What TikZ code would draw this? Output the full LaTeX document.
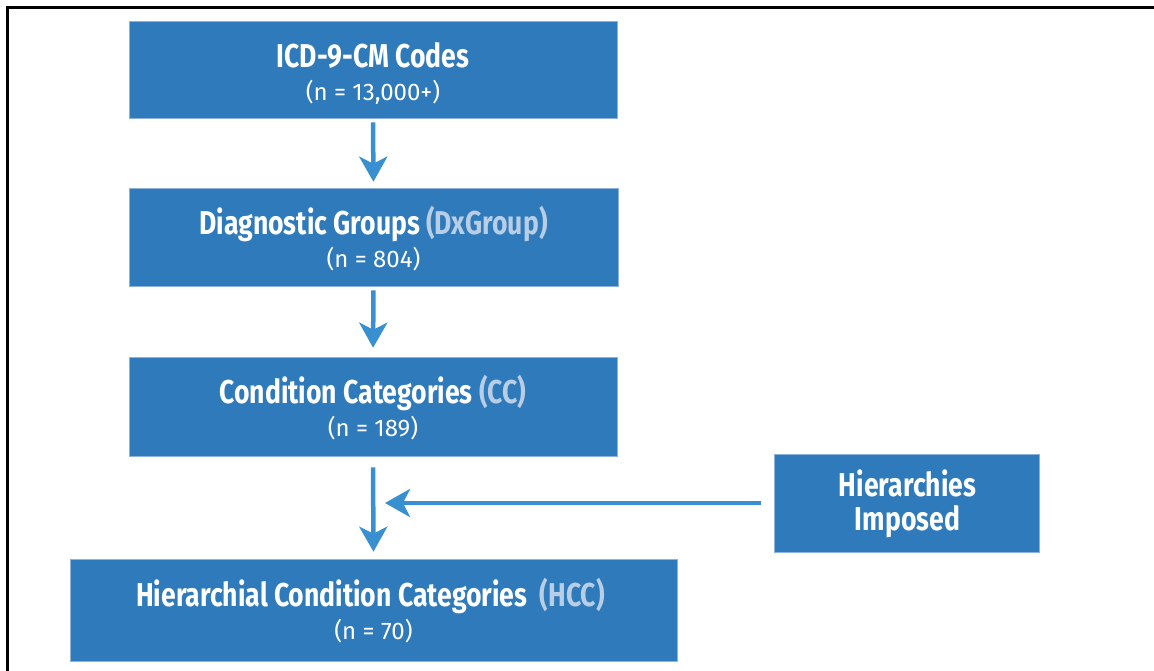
\documentclass[tikz,border=0pt]{standalone}
\usepackage{fontspec}
\setmainfont{Fira Sans}
\newfontfamily\hdfont{Fira Sans}[FakeStretch=0.805]
\newfontfamily\subfont{Fira Sans}
\usetikzlibrary{arrows.meta}
\definecolor{boxblue}{HTML}{2F7ABA}
\definecolor{boxedge}{HTML}{8DB3DA}
\definecolor{arrowblue}{HTML}{3990D0}
\definecolor{lightlbl}{HTML}{B8CDE6}
\tikzset{
  box/.style={rectangle, fill=boxblue, draw=boxedge, line width=0.6pt, inner sep=0pt},
  hd/.style={anchor=base, inner sep=0pt, text=white, font=\hdfont\bfseries\fontsize{33}{33}\selectfont},
  sub/.style={anchor=base, inner sep=0pt, text=white, font=\subfont\fontsize{24}{24}\selectfont},
  flow/.style={draw=arrowblue, line width=4.5pt, -{Stealth[length=25pt,width=28pt,inset=7pt]}},
  frame/.style={draw=black, line width=2.5pt}
}
\begin{document}
\begin{tikzpicture}[x=1pt,y=-1pt]
\useasboundingbox (0,0) rectangle (1154,671);
\draw[frame] (7.5,671) -- (7.5,7.5) -- (1154,7.5);

\node[box, minimum width=488pt, minimum height=97pt] (b1) at (373,69.5) {};
\node[box, minimum width=489pt, minimum height=98pt] (b2) at (373.5,237) {};
\node[box, minimum width=488pt, minimum height=99pt] (b3) at (373,406.5) {};
\node[box, minimum width=607pt, minimum height=102pt] (b4) at (373.5,610) {};
\node[box, minimum width=265pt, minimum height=98pt] (b5) at (906.5,503) {};

\node[hd] (t1a) at ([yshift=-47pt]b1.north) {ICD-9-CM Codes};
\node[sub] (t1b) at ([yshift=-80pt]b1.north) {(n = 13,000+)};
\node[hd] (t2a) at ([yshift=-47pt]b2.north) {Diagnostic Groups \textcolor{lightlbl}{(DxGroup)}};
\node[sub] (t2b) at ([yshift=-80pt]b2.north) {(n = 804)};
\node[hd] (t3a) at ([yshift=-47pt]b3.north) {Condition Categories \textcolor{lightlbl}{(CC)}};
\node[sub] (t3b) at ([yshift=-80pt]b3.north) {(n = 189)};
\node[hd] (t4a) at ([xshift=-3pt,yshift=-48pt]b4.north) {Hierarchial Condition Categories\ \ \textcolor{lightlbl}{(HCC)}};
\node[sub] (t4b) at ([yshift=-81pt]b4.north) {(n = 70)};
\node[hd] (t5a) at ([xshift=1pt,yshift=-43pt]b5.north) {Hierarchies};
\node[hd] (t5b) at ([xshift=1pt,yshift=-77pt]b5.north) {Imposed};

\coordinate (hx) at (385,503);
\draw[flow, shorten <=4pt, shorten >=6pt] (b1.south) -- (b2.north);
\draw[flow, shorten <=4pt, shorten >=9pt] (b2.south) -- (b3.north);
\draw[flow, shorten <=11pt, shorten >=7pt] (b3.south) -- (b4.north);
\draw[flow, shorten <=13pt] (b5.west) -- (hx);
\end{tikzpicture}
\end{document}
